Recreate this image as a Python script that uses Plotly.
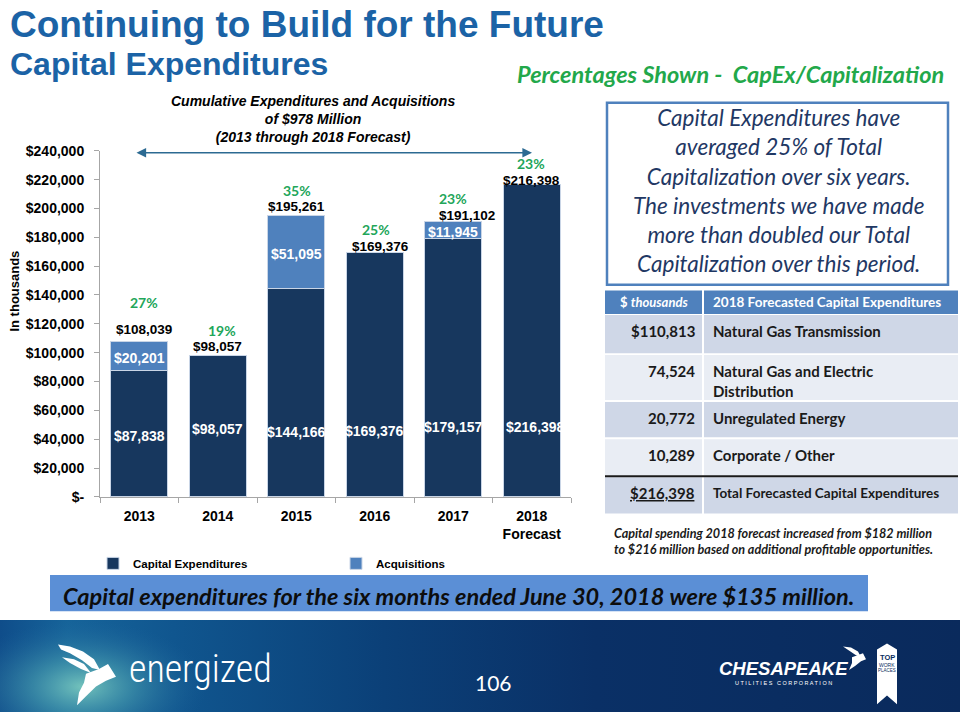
import math
import plotly.graph_objects as go

# ---------------- data ----------------
years = ["2013", "2014", "2015", "2016", "2017", "2018<br>Forecast"]
capex = [87838, 98057, 144166, 169376, 179157, 216398]
acquisitions = [20201, None, 51095, None, 11945, None]
totals = [108039, 98057, 195261, 169376, 191102, 216398]
capex_pct = ["27%", "19%", "35%", "25%", "23%", "23%"]
y_tick_values = [0, 20000, 40000, 60000, 80000, 100000, 120000,
                 140000, 160000, 180000, 200000, 220000, 240000]
y_tick_labels = ["$-", "$20,000", "$40,000", "$60,000", "$80,000", "$100,000",
                 "$120,000", "$140,000", "$160,000", "$180,000", "$200,000",
                 "$220,000", "$240,000"]

table_header = ["$ <i>thousands</i>", "2018 Forecasted Capital Expenditures"]
table_amounts = ["$110,813", "74,524", "20,772", "10,289", "$216,398"]
table_segments = ["Natural Gas Transmission", "Natural Gas and Electric<br>Distribution",
                  "Unregulated Energy", "Corporate / Other",
                  "Total Forecasted Capital Expenditures"]

# ---------------- styling / positions ----------------
W, H = 960, 720
ARIAL = "Liberation Sans, Arial, sans-serif"
CAL = "Lato, Carlito, Calibri, sans-serif"
NAVY = "#17375e"
ACQ = "#4f81bd"
GREEN = "#22a65a"

def px(x):
    return x / W

def py(y):
    return 1 - y / H

capex_label_y = [42000, 47200, 44800, 46000, 48800, 48600]
capex_label_dx = [0, 0, 0, 0, 0, 4]
total_dy = [12, 9, 9, 6, 6, 4]
total_dx = [5, 0, 0, 6, 14, 0]
pct_dy = [39, 25, 25, 23, 23, 21]
pct_dx = [5, 4, 1, 1, 0, -1]
row_edges = [313, 354, 402, 440, 479, 518]

fig = go.Figure()
fig.add_trace(go.Bar(x=years, y=capex, name="Capital Expenditures",
                     marker=dict(color=NAVY, line=dict(color="#c9d5e6", width=1)),
                     hoverinfo="skip"))
fig.add_trace(go.Bar(x=years, y=acquisitions, name="Acquisitions",
                     marker=dict(color=ACQ, line=dict(color="#c9d5e6", width=1)),
                     hoverinfo="skip"))

# ------------- footer (pixel overlay axes) -------------
fig.add_trace(go.Scatter(
    x=[0, 960, 960, 0, 0], y=[626, 626, 720, 720, 626], mode="lines",
    fill="toself", line=dict(width=0), showlegend=False, hoverinfo="skip",
    fillgradient=dict(type="horizontal", start=0, stop=960,
                      colorscale=[[0, "#0f4d8a"], [0.07, "#16649a"], [0.18, "#10568f"],
                                  [0.4, "#0b4078"], [0.62, "#0a3066"], [1, "#0a2a5c"]]),
    xaxis="x2", yaxis="y2"))
cx, cy, rx, ry = 82, 694, 125, 68
ex = [cx + rx * math.cos(t * math.pi / 40) for t in range(81)]
ey = [max(626, cy + ry * math.sin(t * math.pi / 40)) for t in range(81)]
fig.add_trace(go.Scatter(
    x=ex, y=ey, mode="lines", fill="toself", line=dict(width=0),
    showlegend=False, hoverinfo="skip",
    fillgradient=dict(type="radial",
                      colorscale=[[0, "rgba(120,200,190,0.95)"], [0.4, "rgba(75,160,175,0.6)"],
                                  [1, "rgba(30,100,155,0)"]]),
    xaxis="x2", yaxis="y2"))

def poly(points, color="white"):
    xs = [p[0] for p in points] + [points[0][0]]
    ys = [p[1] for p in points] + [points[0][1]]
    fig.add_trace(go.Scatter(x=xs, y=ys, mode="lines", fill="toself",
                             fillcolor=color, line=dict(width=0, color=color),
                             showlegend=False, hoverinfo="skip",
                             xaxis="x2", yaxis="y2"))

# energized bird
poly([(58, 651), (70, 653), (83, 658), (94, 666), (100, 677), (92, 675), (82, 667), (70, 660), (61, 656)])
poly([(62, 664), (74, 666), (84, 671), (91, 680), (81, 676), (70, 670)])
poly([(86, 681), (99, 676), (108, 671), (116, 684), (106, 688), (96, 694), (86, 704), (77, 713), (79, 700), (84, 690)])
# chesapeake bird
poly([(843, 653), (851, 654), (858, 658), (861, 664), (856, 662), (849, 657)])
poly([(852, 664), (858, 662), (863, 660), (866, 666), (861, 668), (855, 673), (849, 677), (852, 670)])
# top work places ribbon
poly([(877, 656), (887, 650), (897, 656), (897, 712), (887, 703), (877, 712)])

annotations = []

def txt(x, y, text, size, color="black", family=ARIAL, weight="normal", style="normal",
        xanchor="center", yanchor="middle", align="center", **kw):
    annotations.append(dict(x=px(x), y=py(y), xref="paper", yref="paper", text=text,
                            showarrow=False, xanchor=xanchor, yanchor=yanchor, align=align,
                            font=dict(size=size, color=color, family=family,
                                      weight=weight, style=style), **kw))

# titles
txt(8, 17, "Continuing to Build for the Future", 37, "#1b63a6", weight="bold", xanchor="left")
txt(8, 57, "Capital Expenditures", 32, "#1b63a6", weight="bold", xanchor="left")
txt(946, 68, "Percentages Shown -  CapEx/Capitalization", 23.5, "#22a84a", family=CAL,
    weight="bold", style="italic", xanchor="right")
txt(313, 114, "Cumulative Expenditures and Acquisitions<br>of $978 Million<br>(2013 through 2018 Forecast)",
    14, "black", weight="bold", style="italic")
txt(15, 290, "In thousands", 13, "black", weight="bold", textangle=-90)

# double arrow
annotations.append(dict(x=532, y=148, ax=135, ay=148, xref="x2", yref="y2",
                        axref="x2", ayref="y2", text="", showarrow=True,
                        arrowhead=2, startarrowhead=2, arrowside="end+start",
                        arrowsize=1.2, startarrowsize=1.2,
                        arrowcolor="#2c6a92", arrowwidth=1.6))

# bar labels (x given as category index)
for i in range(len(years)):
    annotations.append(dict(x=i, y=capex_label_y[i], xref="x", yref="y", showarrow=False,
                            text=f"${capex[i]:,}", xshift=capex_label_dx[i],
                            font=dict(size=14, color="white", family=ARIAL, weight="bold")))
    if acquisitions[i]:
        annotations.append(dict(x=i, y=capex[i] + acquisitions[i] / 2, xref="x", yref="y",
                                showarrow=False, text=f"${acquisitions[i]:,}", yshift=-2,
                                font=dict(size=14, color="white", family=ARIAL, weight="bold")))
    annotations.append(dict(x=i, y=totals[i], xref="x", yref="y", showarrow=False,
                            text=f"${totals[i]:,}", yshift=total_dy[i], xshift=total_dx[i],
                            font=dict(size=13.5, color="black", family=ARIAL, weight="bold")))
    annotations.append(dict(x=i, y=totals[i], xref="x", yref="y", showarrow=False,
                            text=capex_pct[i], yshift=pct_dy[i], xshift=pct_dx[i],
                            font=dict(size=14, color=GREEN, family=CAL, weight="bold")))

# right text box
txt(778, 187, "Capital Expenditures have<br>averaged 25% of Total<br>Capitalization over six years.<br>"
    "The investments we have made<br>more than doubled our Total<br>Capitalization over this period.",
    22.5, "#1f3864", family=CAL, style="italic")

shapes = []

def rect(x0, y0, x1, y1, fill, line=None, lw=0):
    shapes.append(dict(type="rect", xref="paper", yref="paper", x0=px(x0), x1=px(x1),
                       y0=py(y0), y1=py(y1), fillcolor=fill,
                       line=dict(color=line or fill, width=lw), layer="below"))

rect(607, 97, 948, 283, "white", "#4f81bd", 2.5)

# table
rect(605, 289, 702, 313, ACQ)
rect(704, 289, 958, 313, ACQ)
txt(654, 301, table_header[0], 13, "white", family=CAL, weight="bold")
txt(711, 301, table_header[1], 13.5, "white", family=CAL, weight="bold", xanchor="left")
row_fills = ["#cfd7e7", "#e9edf4", "#cfd7e7", "#e9edf4", "#cfd7e7"]
for r in range(5):
    top, bot = row_edges[r], row_edges[r + 1]
    rect(605, top + 1, 702, bot - 1, row_fills[r])
    rect(704, top + 1, 958, bot - 1, row_fills[r])
    amount = table_amounts[r]
    if r == 4:
        amount = f"<span style='text-decoration:underline'>{amount}</span>"
    txt(697, top + 6, amount, 15, "#1a1a1a", family=CAL, weight="bold",
        xanchor="right", yanchor="top")
    txt(711, top + 6 if r < 4 else top + 7, table_segments[r], 15 if r < 4 else 13.5,
        "#1a1a1a", family=CAL, weight="bold", xanchor="left", yanchor="top", align="left")
shapes.append(dict(type="line", xref="paper", yref="paper", x0=px(605), x1=px(958),
                   y0=py(479), y1=py(479), line=dict(color="#1a1a1a", width=2)))

txt(612, 546, "Capital spending 2018 forecast increased from $182 million<br>"
    "to $216 million based on additional profitable opportunities.",
    12.6, "#1a1a1a", family=CAL, weight="bold", style="italic", xanchor="left", align="left")

# bottom banner
rect(50, 580, 868, 617, "#5b8fd6")
txt(458, 601, "Capital expenditures for the six months ended June 30, 2018 were $135 million.",
    23.5, "#0d0d0d", family=CAL, weight="bold", style="italic")

# footer text
txt(127, 676, "energized", 38, "white", family="Roboto Condensed, DejaVu Sans Condensed, Roboto",
    weight=300, xanchor="left")
txt(493, 690, "106", 21, "white", family=CAL)
txt(783, 676, "CHESAPEAKE", 18.5, "white", family=ARIAL, weight="bold", style="italic")
txt(783, 690, "U T I L I T I E S   C O R P O R A T I O N", 5.5, "white", family=ARIAL)
txt(887, 664, "TOP", 7.5, "#0b2d5e", family=ARIAL, weight="bold")
txt(887, 672, "WORK", 5, "#0b2d5e", family=ARIAL)
txt(887, 678, "PLACES", 4.5, "#0b2d5e", family=ARIAL)

fig.update_layout(
    width=W, height=H, margin=dict(l=0, r=0, t=0, b=0),
    paper_bgcolor="white", plot_bgcolor="rgba(0,0,0,0)",
    barmode="stack", bargap=0.273,
    showlegend=True,
    legend=dict(orientation="h", x=px(93), y=py(568), xanchor="left", yanchor="middle",
                entrywidth=198, entrywidthmode="pixels", traceorder="normal",
                font=dict(size=11.5, family=ARIAL, color="black", weight="bold"),
                bgcolor="rgba(0,0,0,0)"),
    xaxis=dict(domain=[px(100), px(571)], type="category", range=[-0.5, 5.5],
               autorange=False, showline=True,
               linecolor="#a6a6a6", linewidth=1, ticks="outside", tickson="boundaries",
               ticklen=5, tickcolor="#a6a6a6", showgrid=False, fixedrange=True,
               ticklabelstandoff=6,
               tickfont=dict(size=14, family=ARIAL, color="black", weight="bold")),
    yaxis=dict(domain=[py(500), py(146)], range=[0, 240000], tickvals=y_tick_values,
               ticktext=y_tick_labels, showline=True, linecolor="#a6a6a6", linewidth=1,
               ticks="outside", ticklen=5, tickcolor="#a6a6a6", showgrid=False,
               zeroline=False, fixedrange=True, ticklabelstandoff=7,
               tickfont=dict(size=14, family=ARIAL, color="black", weight="bold")),
    xaxis2=dict(domain=[0, 1], range=[0, 960], visible=False, fixedrange=True, anchor="y2"),
    yaxis2=dict(domain=[0, 1], range=[720, 0], visible=False, fixedrange=True, anchor="x2"),
    annotations=annotations, shapes=shapes,
)

fig.write_html("out.html", config={"displayModeBar": False},
               post_script="document.body.style.margin='0';document.body.style.overflow='hidden';")
